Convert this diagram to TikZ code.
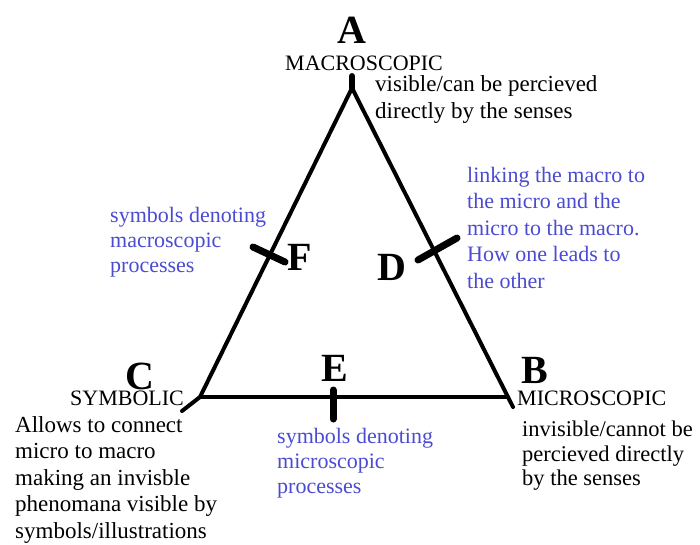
\documentclass[tikz,border=0pt]{standalone}
\usepackage{fontspec}
\setmainfont{Liberation Serif}
\definecolor{bluetxt}{RGB}{75,75,210}
\begin{document}
\begin{tikzpicture}[x=1pt,y=-1pt,
  edge/.style={line width=4pt, line join=round, line cap=round},
  tickmark/.style={line width=7pt, line cap=round},
  big/.style={font=\fontsize{40}{40}\selectfont\bfseries, inner sep=0pt},
  body/.style={font=\fontsize{22}{26.5}\selectfont, inner sep=0pt, align=left, anchor=north west},
  desc/.style={body, font=\fontsize{23}{27}\selectfont},
  bluebody/.style={body, text=bluetxt}]
\useasboundingbox (0,0) rectangle (700,544);
% triangle
\coordinate (A) at (352,88);
\coordinate (Atop) at (352,76);
\coordinate (C) at (200,397);
\coordinate (Cend) at (182,411);
\coordinate (B) at (508,397);
\coordinate (Bend) at (513,407);
\draw[edge] (Cend) -- (C) -- (A) -- (Bend);
\draw[edge] (C) -- (B);
\draw[line width=6pt, line cap=round] (Atop) -- (A);
% tick marks
\coordinate (F1) at (253,247); \coordinate (F2) at (285,262);
\coordinate (D1) at (418,260); \coordinate (D2) at (457,238);
\coordinate (E1) at (333,390); \coordinate (E2) at (333,419);
\draw[tickmark] (F1) -- (F2);
\draw[tickmark] (D1) -- (D2);
\draw[tickmark] (E1) -- (E2);
% letters
\node[big] (la) at (352,30) {A};
\node[big] (lb) at (535,370) {B};
\node[big] (lc) at (140,376) {C};
\node[big] (ld) at (392,267) {D};
\node[big] (le) at (335,368) {E};
\node[big] (lf) at (300,257) {F};
% vertex texts
\node[body, anchor=base west] (macro) at (285,70) {MACROSCOPIC};
\node[desc] (macrodesc) at (375,75) {visible/can be percieved\\directly by the senses};
\node[body, anchor=base west] (micro) at (517,405) {MICROSCOPIC};
\node[body, font=\fontsize{22.5}{24.5}\selectfont] (microdesc) at (522,421) {invisible/cannot be\\percieved directly\\by the senses};
\node[body, anchor=base west] (symb) at (70,405) {SYMBOLIC};
\node[desc, font=\fontsize{23}{26.6}\selectfont] (symbdesc) at (15,416) {Allows to connect\\micro to macro\\making an invisble\\phenomana visible by\\symbols/illustrations};
% side texts
\node[bluebody, font=\fontsize{22}{25}\selectfont] (ftext) at (110,207) {symbols denoting\\macroscopic\\processes};
\node[bluebody] (dtext) at (467,167) {linking the macro to\\the micro and the\\micro to the macro.\\How one leads to\\the other};
\node[bluebody, font=\fontsize{22}{25}\selectfont] (etext) at (277,428) {symbols denoting\\microscopic\\processes};
\end{tikzpicture}
\end{document}
